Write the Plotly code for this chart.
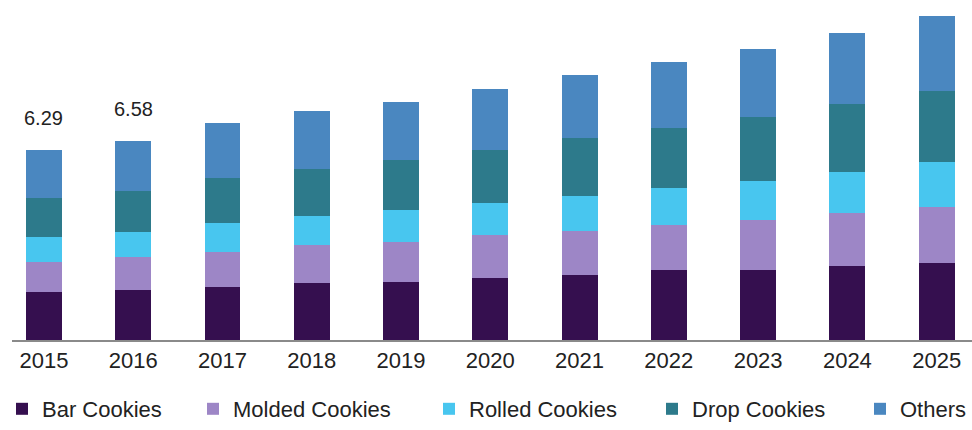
import plotly.graph_objects as go

# Cookie market by product type, 2015-2025 (USD billion)
years = ["2015", "2016", "2017", "2018", "2019", "2020", "2021", "2022", "2023", "2024", "2025"]
bar_cookies = [1.59, 1.66, 1.75, 1.88, 1.93, 2.06, 2.16, 2.30, 2.32, 2.43, 2.54]
molded_cookies = [0.98, 1.08, 1.16, 1.25, 1.30, 1.40, 1.44, 1.49, 1.65, 1.76, 1.85]
rolled_cookies = [0.83, 0.83, 0.96, 0.97, 1.07, 1.07, 1.16, 1.25, 1.30, 1.36, 1.49]
drop_cookies = [1.30, 1.35, 1.49, 1.54, 1.65, 1.74, 1.93, 1.97, 2.09, 2.24, 2.35]
others = [1.59, 1.66, 1.82, 1.92, 1.93, 2.04, 2.06, 2.17, 2.26, 2.36, 2.48]

series_names = ["Bar Cookies", "Molded Cookies", "Rolled Cookies", "Drop Cookies", "Others"]
series_values = [bar_cookies, molded_cookies, rolled_cookies, drop_cookies, others]
series_colors = ["#350f4f", "#9d86c6", "#48c6ef", "#2d7a8b", "#4a87c0"]

# years whose totals are printed above the bar
labelled_years = ["2015", "2016"]

FONT = "Liberation Sans, Arial, sans-serif"
TEXT_COLOR = "#222222"

fig = go.Figure()
legend_ids = ["legend", "legend2", "legend3", "legend4", "legend5"]
for name, vals, color, lid in zip(series_names, series_values, series_colors, legend_ids):
    fig.add_trace(go.Bar(
        x=years, y=vals, name=name,
        marker=dict(color=color, line=dict(width=0)),
        legend=lid, showlegend=True,
        hoverinfo="x+y+name",
    ))

# stack totals; category axis positions are addressed by index
totals = [sum(v) for v in zip(*series_values)]
for idx, (yr, tot) in enumerate(zip(years, totals)):
    if yr in labelled_years:
        fig.add_annotation(
            x=idx, y=tot, text=f"{tot:.2f}", showarrow=False,
            xanchor="center", yanchor="middle", yshift=32,
            font=dict(family=FONT, size=20, color=TEXT_COLOR),
        )

# one legend per series, laid out in a single row under the axis
legend_left_px = [2, 193, 429, 652, 860]
legend_layout = {}
for lid, left in zip(legend_ids, legend_left_px):
    legend_layout[lid] = dict(
        orientation="h", xref="container", yref="container",
        x=left / 972, y=-4 / 430, xanchor="left", yanchor="bottom",
        font=dict(family=FONT, size=22, color=TEXT_COLOR),
        bgcolor="rgba(0,0,0,0)", borderwidth=0,
    )

fig.update_layout(
    width=972, height=430,
    margin=dict(l=12, r=0, t=0, b=90),
    barmode="stack", bargap=0.597,
    showlegend=True,
    plot_bgcolor="white", paper_bgcolor="white",
    font=dict(family=FONT, color=TEXT_COLOR),
    xaxis=dict(
        type="category", range=[-0.358, 10.396],
        showline=True, linecolor="#8a8a8a", linewidth=2,
        showgrid=False, ticks="", zeroline=False,
        tickfont=dict(family=FONT, size=22, color=TEXT_COLOR),
    ),
    yaxis=dict(range=[0, 11.24], visible=False, showgrid=False, zeroline=False),
    **legend_layout,
)

fig.write_html("out.html")
